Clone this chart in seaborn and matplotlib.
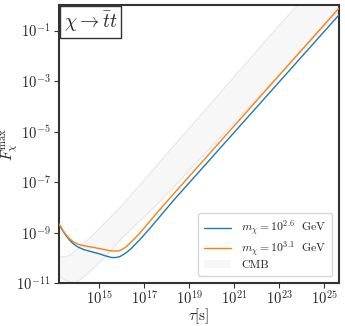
import numpy as np
import matplotlib
matplotlib.use("Agg")
import matplotlib.pyplot as plt
import seaborn as sns

# values, as log10 exponents
blue_logtau = [13.22, 13.35, 13.5, 13.68, 13.86, 14.05, 14.3, 14.7, 15.04, 15.3, 15.56,
               15.75, 15.93, 16.15, 16.38, 16.82, 17.2, 17.56, 18.3, 25.65]
blue_logF = [-8.65, -8.86, -9.07, -9.28, -9.44, -9.56, -9.66, -9.76, -9.84, -9.92, -9.98,
             -9.98, -9.94, -9.82, -9.66, -9.26, -8.88, -8.5, -7.72, -0.37]

orange_logtau = [13.22, 13.35, 13.5, 13.68, 13.86, 14.05, 14.3, 14.7, 15.04, 15.3, 15.56,
                 15.86, 16.05, 16.23, 16.5, 16.82, 17.2, 17.56, 18.0, 25.65]
orange_logF = [-8.65, -8.85, -9.04, -9.23, -9.36, -9.45, -9.51, -9.57, -9.63, -9.68, -9.72,
               -9.72, -9.65, -9.53, -9.3, -9.0, -8.6, -8.22, -7.77, -0.1]

cmb_logtau = [13.22, 13.5, 13.64, 13.75, 13.9, 13.95, 14.16, 14.2, 14.52, 14.6, 15.27,
              16.0, 16.82, 16.9, 17.79, 21.71, 22.73, 23.9, 25.65]
cmb_hi = [-9.94, -9.95, -9.92, -9.86, -9.75, -9.71, -9.54, -9.5, -9.26, -9.2, -8.6,
          -7.94, -7.1, -7.02, -6.1, -2.1, -1.05, 0.1, 1.85]
cmb_lo = [-10.7, -10.88, -10.94, -10.97, -10.97, -10.96, -10.86, -10.84, -10.58, -10.52,
          -9.95, -9.22, -8.52, -8.45, -7.68, -3.95, -3.0, -1.9, -0.2]

labels = [r"$m_\chi = 10^{2.6}\ \ \mathrm{GeV}$", r"$m_\chi = 10^{3.1}\ \ \mathrm{GeV}$", "CMB"]
xticks = [1e15, 1e17, 1e19, 1e21, 1e23, 1e25]
yticks = [1e-11, 1e-9, 1e-7, 1e-5, 1e-3, 1e-1]

sns.set_style("ticks")
plt.rcParams["font.family"] = "serif"
plt.rcParams["font.serif"] = ["cmr10", "DejaVu Serif"]
plt.rcParams["mathtext.fontset"] = "cm"
plt.rcParams["axes.unicode_minus"] = False
plt.rcParams["axes.formatter.use_mathtext"] = True

fig = plt.figure(figsize=(3.45, 3.26), dpi=100)
ax = fig.add_axes([0.171, 0.131, 0.812, 0.854])

tau_c = 10.0 ** np.array(cmb_logtau)
ax.fill_between(tau_c, 10.0 ** np.array(cmb_lo), 10.0 ** np.array(cmb_hi),
                color="#f7f7f7", lw=0, label=labels[2], zorder=1)
ax.plot(tau_c, 10.0 ** np.array(cmb_hi), color="#e8e8e8", lw=0.9, zorder=1.5)
ax.plot(tau_c, 10.0 ** np.array(cmb_lo), color="#e8e8e8", lw=0.9, zorder=1.5)

sns.lineplot(x=10.0 ** np.array(blue_logtau), y=10.0 ** np.array(blue_logF),
             ax=ax, color="#1f77b4", lw=1.0, label=labels[0], zorder=3)
sns.lineplot(x=10.0 ** np.array(orange_logtau), y=10.0 ** np.array(orange_logF),
             ax=ax, color="#ff7f0e", lw=1.0, label=labels[1], zorder=3)

ax.set_xscale("log")
ax.set_yscale("log")
ax.set_xlim(10 ** 13.22, 10 ** 25.65)
ax.set_ylim(1e-11, 10 ** 0.02)
ax.set_xticks(xticks)
ax.set_yticks(yticks)
ax.minorticks_off()
ax.tick_params(labelsize=10.5, length=3.5, width=0.8, color="#333333", pad=2.5)
ax.tick_params(axis="x", pad=1.0)

for s in ax.spines.values():
    s.set_linewidth(1.5)
    s.set_color("#333333")

ax.set_xlabel(r"$\tau[\rm s]$", fontsize=11)
ax.set_ylabel(r"$F_\chi^{\rm max}$", fontsize=11)
ax.xaxis.set_label_coords(0.5, -0.083)
ax.yaxis.set_label_coords(-0.14, 0.5)

ax.text(0.017, 0.982, r"$\chi \to \bar{t}t$", transform=ax.transAxes, fontsize=14,
        va="top", ha="left",
        bbox=dict(boxstyle="square,pad=0.2", fc="white", ec="#333333", lw=1.0), zorder=5)

h, l = ax.get_legend_handles_labels()
order = [l.index(labels[0]), l.index(labels[1]), l.index(labels[2])]
ax.legend([h[i] for i in order], [l[i] for i in order], loc="lower right", fontsize=8.5,
          frameon=True, borderaxespad=0.6, handlelength=2.3, labelspacing=0.1,
          borderpad=0.5)

fig.savefig("out.png", dpi=100)
